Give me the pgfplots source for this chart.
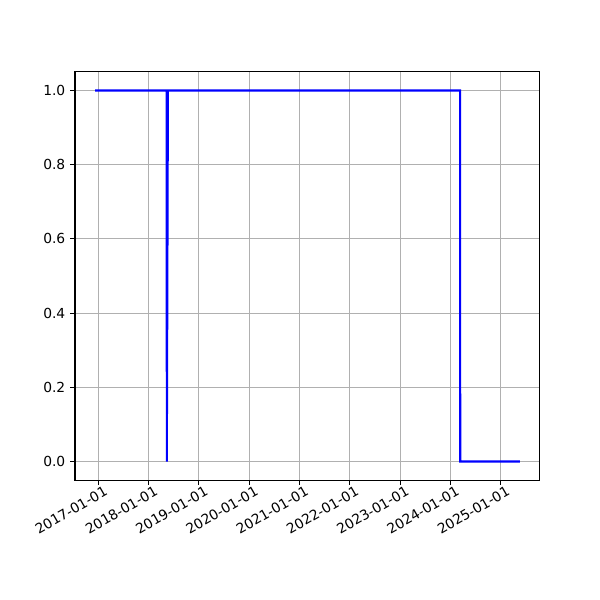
\documentclass[border=0pt]{standalone}
\usepackage{pgfplots}
\pgfplotsset{compat=1.18}
\usepackage{fontspec}
\setmainfont{DejaVu Sans}
\begin{document}
\begin{tikzpicture}
\path[use as bounding box] (-54.2pt,-86.7pt) rectangle (379.4pt,347.0pt);
\begin{axis}[
  at={(0,0)}, anchor=south west,
  scale only axis, width=336pt, height=295pt,
  xmin=-170, xmax=3206, ymin=-0.05, ymax=1.05,
  xtick={0,365,730,1095,1461,1826,2191,2556,2922},
  xticklabels={2017-01-01,2018-01-01,2019-01-01,2020-01-01,2021-01-01,2022-01-01,2023-01-01,2024-01-01,2025-01-01},
  ytick={0,0.2,0.4,0.6,0.8,1.0},
  yticklabel style={/pgf/number format/fixed,/pgf/number format/fixed zerofill,/pgf/number format/precision=1},
  /pgf/number format/assume math mode=true,
  xticklabel style={rotate=30, anchor=north east, font=\fontsize{10}{12}\selectfont, inner sep=1pt, xshift=4pt, yshift=-1pt},
  yticklabel style={font=\fontsize{10}{12}\selectfont},
  tick align=outside, tick pos=left,
  major tick length=3.5pt,
  tick style={black, line width=0.8pt},
  axis line style={line width=0.8pt},
  grid=major,
  major grid style={color={rgb,255:red,176;green,176;blue,176}, line width=0.8pt},
]
\addplot[blue, line width=1.5pt, mark=none] coordinates {
(-24,1) (496,1) (497,0) (505,1) (2627,1) (2628,0) (3062,0)
};
\end{axis}
\end{tikzpicture}
\end{document}
